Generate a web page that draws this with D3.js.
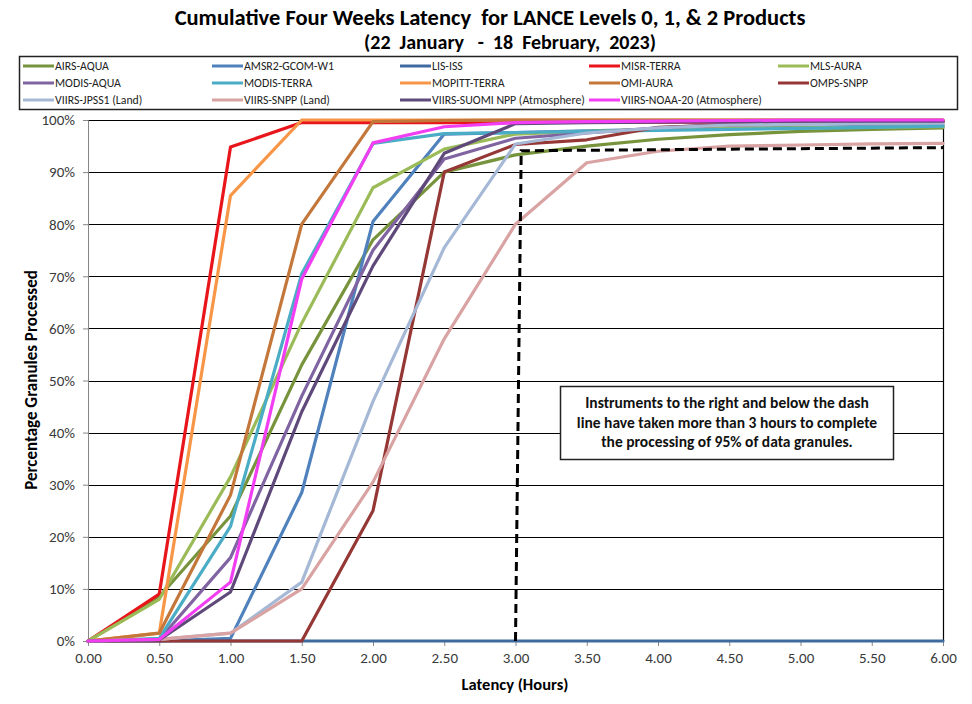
<!DOCTYPE html>
<html>
<head>
<meta charset="utf-8">
<script src="https://cdn.jsdelivr.net/npm/d3@7"></script>
<style>
  html, body { margin: 0; padding: 0; background: #fff; }
  svg { display: block; font-family: Carlito, Lato, "Liberation Sans", sans-serif; }
</style>
</head>
<body>
<svg id="chart" width="972" height="704"></svg>
<script>
// ---------- data ----------
const latencyHours = [0, 0.5, 1, 1.5, 2, 2.5, 3, 3.5, 4, 4.5, 5, 5.5, 6];
const xTickLabels = ["0.00","0.50","1.00","1.50","2.00","2.50","3.00","3.50","4.00","4.50","5.00","5.50","6.00"];
const yTickValues = [0,10,20,30,40,50,60,70,80,90,100];

const seriesNames = [
  "AIRS-AQUA", "AMSR2-GCOM-W1", "LIS-ISS", "MISR-TERRA", "MLS-AURA",
  "MODIS-AQUA", "MODIS-TERRA", "MOPITT-TERRA", "OMI-AURA", "OMPS-SNPP",
  "VIIRS-JPSS1 (Land)", "VIIRS-SNPP (Land)", "VIIRS-SUOMI NPP (Atmosphere)", "VIIRS-NOAA-20 (Atmosphere)"
];
const seriesColors = [
  "#77933C", "#4F81BD", "#3F6AA0", "#E8151B", "#9BBB59",
  "#8064A2", "#4BACC6", "#F79646", "#C4773A", "#953735",
  "#A5B8D6", "#D8A3A2", "#5F497A", "#F23EF2"
];
const airsAqua     = [0, 8.5, 24, 53, 77, 90, 93.3, 95, 96.3, 97.2, 97.8, 98.2, 98.5];
const amsr2Gcom    = [0, 0, 0.5, 28.5, 80.5, 97.3, 97.6, 97.9, 98.2, 98.4, 98.6, 98.8, 99];
const lisIss       = [0, 0, 0, 0, 0, 0, 0, 0, 0, 0, 0, 0, 0];
const misrTerra    = [0, 9, 94.8, 99.5, 99.5, 99.5, 99.5, 99.6, 99.6, 99.6, 99.7, 99.7, 99.7];
const mlsAura      = [0, 8, 31.5, 61, 87, 94.4, 97.3, 97.8, 98.2, 98.4, 98.5, 98.6, 98.7];
const modisAqua    = [0, 0.3, 16, 47, 75, 92.5, 96.5, 97.5, 98.5, 99.2, 99.5, 99.6, 99.7];
const modisTerra   = [0, 0.5, 22, 70.5, 95.5, 97.4, 97.6, 97.8, 98, 98.2, 98.4, 98.6, 98.8];
const mopittTerra  = [0, 1.5, 85.5, 100, 100, 100, 100, 100, 100, 100, 100, 100, 100];
const omiAura      = [0, 1.5, 28, 80, 99.7, 99.9, 100, 100, 100, 100, 100, 100, 100];
const ompsSnpp     = [0, 0, 0, 0, 25, 90, 95.3, 96.2, 98.6, 99, 99.3, 99.5, 99.6];
const viirsJpss1   = [0, 0.3, 1.5, 11.3, 46, 75.5, 95.4, 97.5, 98.5, 99, 99.2, 99.3, 99.4];
const viirsSnpp    = [0, 0.3, 1.5, 10, 30.5, 58, 80, 91.8, 94, 95, 95.2, 95.4, 95.5];
const viirsSuomi   = [0, 0.2, 9.4, 44, 72, 93.6, 99.3, 99.5, 99.6, 99.7, 99.8, 99.8, 99.8];
const viirsNoaa20  = [0, 0.3, 11.3, 69.5, 95.6, 98.7, 99.5, 99.7, 99.8, 99.9, 100, 100, 100];
const seriesValues = [airsAqua, amsr2Gcom, lisIss, misrTerra, mlsAura, modisAqua, modisTerra,
  mopittTerra, omiAura, ompsSnpp, viirsJpss1, viirsSnpp, viirsSuomi, viirsNoaa20];

// 3-hour / 95% reference dash line
const dashX = [3.0, 3.04, 6.0];
const dashY = [0, 94.1, 94.7];

const titleText = "Cumulative Four Weeks Latency  for LANCE Levels 0, 1, & 2 Products";
const subtitleText = "(22  January   -  18  February,  2023)";
const xAxisTitle = "Latency (Hours)";
const yAxisTitle = "Percentage Granules Processed";
const noteLines = [
  "Instruments to the right and below the dash",
  "line have taken more than 3 hours to complete",
  "the processing of 95% of data granules."
];

// ---------- layout ----------
const svg = d3.select("#chart");
const plot = { left: 88, right: 943, top: 120, bottom: 641 };
const x = d3.scaleLinear().domain([0, 6]).range([plot.left, plot.right]);
const y = d3.scaleLinear().domain([0, 100]).range([plot.bottom, plot.top]);

// title
svg.append("text").attr("x", 490).attr("y", 25).attr("text-anchor", "middle")
  .attr("font-size", 22.5).attr("font-weight", "bold").attr("fill", "#000")
  .style("white-space", "pre").text(titleText);
svg.append("text").attr("x", 510).attr("y", 49).attr("text-anchor", "middle")
  .attr("font-size", 20).attr("font-weight", "bold").attr("fill", "#000")
  .style("white-space", "pre").text(subtitleText);

// legend
const legend = svg.append("g");
legend.append("rect").attr("x", 19.5).attr("y", 56.5).attr("width", 938).attr("height", 53)
  .attr("fill", "#fff").attr("stroke", "#222").attr("stroke-width", 1.5);
const colX = [23, 212, 400, 589, 778];
const rowY = [66, 83, 100];
seriesNames.forEach((name, i) => {
  const cx = colX[i % 5], cy = rowY[Math.floor(i / 5)];
  legend.append("line").attr("x1", cx).attr("x2", cx + 31).attr("y1", cy).attr("y2", cy)
    .attr("stroke", seriesColors[i]).attr("stroke-width", 3);
  legend.append("text").attr("x", cx + 32).attr("y", cy + 4).attr("font-size", 11.8)
    .attr("fill", "#222").text(name);
});

// gridlines
svg.append("g").selectAll("line").data(yTickValues.filter(v => v > 0)).join("line")
  .attr("x1", plot.left).attr("x2", plot.right)
  .attr("y1", d => Math.round(y(d)) + 0.5).attr("y2", d => Math.round(y(d)) + 0.5)
  .attr("stroke", "#000").attr("stroke-width", 1.2);
// right border
svg.append("line").attr("x1", plot.right + 0.5).attr("x2", plot.right + 0.5)
  .attr("y1", plot.top).attr("y2", plot.bottom).attr("stroke", "#000").attr("stroke-width", 1.2);

// axes
const yAxis = d3.axisLeft(y).tickValues(yTickValues).tickFormat(d => d + "%").tickSize(5).tickPadding(8);
const gy = svg.append("g").attr("transform", `translate(${plot.left},0)`).call(yAxis);
gy.select(".domain").attr("stroke", "#868686");
gy.selectAll(".tick line").attr("stroke", "#868686");
gy.selectAll("text").attr("font-size", 15).attr("fill", "#3a3a3a").attr("font-family", "Carlito, Lato, sans-serif");

const xAxis = d3.axisBottom(x).tickValues(latencyHours).tickFormat((d, i) => xTickLabels[i]).tickSize(5).tickPadding(6);
const gx = svg.append("g").attr("transform", `translate(0,${plot.bottom})`).call(xAxis);
gx.select(".domain").attr("stroke", "#868686");
gx.selectAll(".tick line").attr("stroke", "#868686");
gx.selectAll("text").attr("font-size", 15).attr("fill", "#3a3a3a").attr("font-family", "Carlito, Lato, sans-serif");

// axis titles
svg.append("text").attr("x", 515).attr("y", 690).attr("text-anchor", "middle")
  .attr("font-size", 16.5).attr("font-weight", "bold").text(xAxisTitle);
svg.append("text").attr("transform", "translate(37,380) rotate(-90)").attr("text-anchor", "middle")
  .attr("font-size", 17).attr("font-weight", "bold").text(yAxisTitle);

// series lines
const line = d3.line().x(d => x(d[0])).y(d => y(d[1]));
const gLines = svg.append("g");
seriesValues.forEach((vals, i) => {
  gLines.append("path").datum(latencyHours.map((h, j) => [h, vals[j]]))
    .attr("d", line).attr("fill", "none").attr("stroke", seriesColors[i])
    .attr("stroke-width", 3.2).attr("stroke-linejoin", "round").attr("stroke-linecap", "round");
});

// dash line
svg.append("path").datum(dashX.map((v, i) => [v, dashY[i]]))
  .attr("d", line).attr("fill", "none").attr("stroke", "#000")
  .attr("stroke-width", 3).attr("stroke-dasharray", "9,5");

// note box
const note = svg.append("g");
note.append("rect").attr("x", 560.5).attr("y", 386.5).attr("width", 333).attr("height", 73)
  .attr("fill", "#fff").attr("stroke", "#222").attr("stroke-width", 1.5);
noteLines.forEach((t, i) => {
  note.append("text").attr("x", 727).attr("y", 408 + i * 19.5).attr("text-anchor", "middle")
    .attr("font-size", 15.5).attr("font-weight", "bold").attr("fill", "#111").text(t);
});
</script>
</body>
</html>
